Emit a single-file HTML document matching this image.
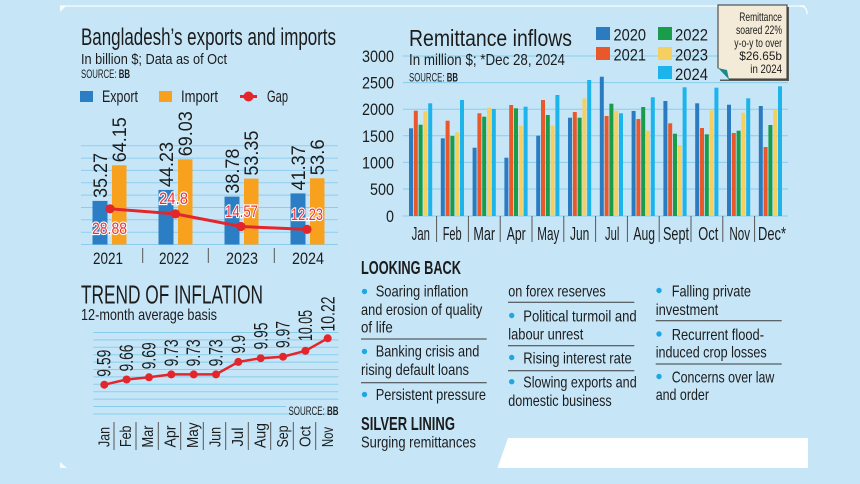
<!DOCTYPE html>
<html>
<head>
<meta charset="utf-8">
<style>
  html,body{margin:0;padding:0;background:#c6e6f8;}
  svg{display:block;}
  text{font-family:"Liberation Sans Narrow","Liberation Sans",sans-serif;fill:#1c1c1c;}
  .b{font-weight:bold;}
  .gap{fill:#e8333a;stroke:#ffffff;stroke-width:2.2;paint-order:stroke;font-size:17px;}
</style>
</head>
<body>
<svg width="860" height="484" viewBox="0 0 860 484" xmlns="http://www.w3.org/2000/svg">
  <rect x="0" y="0" width="860" height="484" fill="#c6e6f8"/>
  <!-- faint frame -->
  <line x1="60" y1="6" x2="805" y2="6" stroke="#ffffff" stroke-opacity="0.75" stroke-width="1.5"/>
  <path d="M60 6 L60 12 L66 6 Z" fill="#ffffff" fill-opacity="0.8"/>
  <path d="M800 6 Q807 6 807 14" fill="none" stroke="#ffffff" stroke-opacity="0.8" stroke-width="1.5"/>
  <path d="M60 462 L60 468 L67 468 Z" fill="#ffffff" fill-opacity="0.8"/>
  <polygon points="508,438 808,438 808,468 497.5,468" fill="#ffffff"/>

  <!-- ============ EXPORTS / IMPORTS ============ -->
  <text x="81" y="45" font-size="24" textLength="255" lengthAdjust="spacingAndGlyphs">Bangladesh’s exports and imports</text>
  <text x="81" y="64" font-size="15" textLength="146" lengthAdjust="spacingAndGlyphs">In billion $; Data as of Oct</text>
  <text x="81" y="78" font-size="12" textLength="49" lengthAdjust="spacingAndGlyphs">SOURCE: <tspan class="b">BB</tspan></text>

  <rect x="80" y="91" width="13" height="11" fill="#2b7dc4"/>
  <text x="102" y="102" font-size="17" textLength="36" lengthAdjust="spacingAndGlyphs">Export</text>
  <rect x="159" y="91" width="13" height="11" fill="#f8a11e"/>
  <text x="181" y="102" font-size="17" textLength="37" lengthAdjust="spacingAndGlyphs">Import</text>
  <line x1="240" y1="96.5" x2="257" y2="96.5" stroke="#e3262b" stroke-width="3"/>
  <circle cx="248.5" cy="96.5" r="5" fill="#e3262b"/>
  <text x="267" y="102" font-size="17" textLength="21" lengthAdjust="spacingAndGlyphs">Gap</text>

  <g stroke="#8ccdee" stroke-width="1">
    <line x1="81" y1="145.7" x2="338" y2="145.7"/>
    <line x1="81" y1="158.1" x2="338" y2="158.1"/>
    <line x1="81" y1="170.4" x2="338" y2="170.4"/>
    <line x1="81" y1="182.8" x2="338" y2="182.8"/>
    <line x1="81" y1="195.1" x2="338" y2="195.1"/>
    <line x1="81" y1="207.5" x2="338" y2="207.5"/>
    <line x1="81" y1="219.8" x2="338" y2="219.8"/>
    <line x1="81" y1="232.2" x2="338" y2="232.2"/>
    <line x1="81" y1="244.5" x2="338" y2="244.5"/>
  </g>

  <g fill="#2b7dc4">
    <rect x="92.5" y="200.9" width="15" height="43.6"/>
    <rect x="158.5" y="189.9" width="15" height="54.6"/>
    <rect x="224.5" y="196.6" width="15" height="47.9"/>
    <rect x="290.5" y="193.4" width="15" height="51.1"/>
  </g>
  <g fill="#f8a11e">
    <rect x="112" y="165.3" width="14.5" height="79.2"/>
    <rect x="178" y="159.3" width="14.5" height="85.2"/>
    <rect x="244" y="178.6" width="14.5" height="65.9"/>
    <rect x="310" y="178.3" width="14.5" height="66.2"/>
  </g>

  <g font-size="19">
    <text transform="translate(100,198) rotate(-90)" dy="0.36em" textLength="45" lengthAdjust="spacingAndGlyphs">35.27</text>
    <text transform="translate(166,187) rotate(-90)" dy="0.36em" textLength="45" lengthAdjust="spacingAndGlyphs">44.23</text>
    <text transform="translate(232,193.6) rotate(-90)" dy="0.36em" textLength="45" lengthAdjust="spacingAndGlyphs">38.78</text>
    <text transform="translate(298,190.4) rotate(-90)" dy="0.36em" textLength="45" lengthAdjust="spacingAndGlyphs">41.37</text>
    <text transform="translate(119.3,162.3) rotate(-90)" dy="0.36em" textLength="45" lengthAdjust="spacingAndGlyphs">64.15</text>
    <text transform="translate(185.3,156.3) rotate(-90)" dy="0.36em" textLength="45" lengthAdjust="spacingAndGlyphs">69.03</text>
    <text transform="translate(251.3,175.6) rotate(-90)" dy="0.36em" textLength="45" lengthAdjust="spacingAndGlyphs">53.35</text>
    <text transform="translate(317.3,175.3) rotate(-90)" dy="0.36em" textLength="36" lengthAdjust="spacingAndGlyphs">53.6</text>
  </g>

  <polyline points="110,208.8 175.5,213.9 241,226.5 307,229.4" fill="none" stroke="#e3262b" stroke-width="3"/>
  <g fill="#e3262b">
    <circle cx="110" cy="208.8" r="4.6"/>
    <circle cx="175.5" cy="213.9" r="4.6"/>
    <circle cx="241" cy="226.5" r="4.6"/>
    <circle cx="307" cy="229.4" r="4.6"/>
  </g>
  <text class="gap" x="92" y="234" textLength="35" lengthAdjust="spacingAndGlyphs">28.88</text>
  <text class="gap" x="159" y="204" textLength="29" lengthAdjust="spacingAndGlyphs">24.8</text>
  <text class="gap" x="225" y="217" textLength="33" lengthAdjust="spacingAndGlyphs">14.57</text>
  <text class="gap" x="291" y="220" textLength="32" lengthAdjust="spacingAndGlyphs">12.23</text>

  <g font-size="17" text-anchor="middle">
    <text x="108" y="264" textLength="30" lengthAdjust="spacingAndGlyphs">2021</text>
    <text x="174" y="264" textLength="30" lengthAdjust="spacingAndGlyphs">2022</text>
    <text x="242" y="264" textLength="32" lengthAdjust="spacingAndGlyphs">2023</text>
    <text x="308" y="264" textLength="32" lengthAdjust="spacingAndGlyphs">2024</text>
  </g>
  <g stroke="#555" stroke-width="1">
    <line x1="142.7" y1="248" x2="142.7" y2="263"/>
    <line x1="208.3" y1="248" x2="208.3" y2="263"/>
    <line x1="274.3" y1="248" x2="274.3" y2="263"/>
  </g>

  <!-- ============ REMITTANCE ============ -->
  <g stroke="#86cdec" stroke-width="1">
    <line x1="403" y1="56" x2="788" y2="56"/>
    <line x1="403" y1="82.6" x2="788" y2="82.6"/>
    <line x1="403" y1="109.2" x2="788" y2="109.2"/>
    <line x1="403" y1="135.8" x2="788" y2="135.8"/>
    <line x1="403" y1="162.4" x2="788" y2="162.4"/>
    <line x1="403" y1="189" x2="788" y2="189"/>
    <line x1="403" y1="216" x2="788" y2="216"/>
  </g>
  <text x="409" y="46" font-size="23" textLength="163" lengthAdjust="spacingAndGlyphs">Remittance inflows</text>
  <text x="409" y="65" font-size="16" textLength="156" lengthAdjust="spacingAndGlyphs">In million $; *Dec 28, 2024</text>
  <text x="409" y="81.5" font-size="12" textLength="49" lengthAdjust="spacingAndGlyphs">SOURCE: <tspan class="b">BB</tspan></text>

  <g font-size="16.5" text-anchor="end">
    <text x="394" y="62" textLength="32" lengthAdjust="spacingAndGlyphs">3000</text>
    <text x="394" y="88.6" textLength="32" lengthAdjust="spacingAndGlyphs">2500</text>
    <text x="394" y="115.2" textLength="32" lengthAdjust="spacingAndGlyphs">2000</text>
    <text x="394" y="141.8" textLength="32" lengthAdjust="spacingAndGlyphs">1500</text>
    <text x="394" y="168.4" textLength="32" lengthAdjust="spacingAndGlyphs">1000</text>
    <text x="394" y="195" textLength="24" lengthAdjust="spacingAndGlyphs">500</text>
    <text x="394" y="222" textLength="8" lengthAdjust="spacingAndGlyphs">0</text>
  </g>

  <!-- legend -->
  <rect x="596" y="27" width="14" height="13" fill="#2b7bc0"/>
  <rect x="596" y="47" width="14" height="13" fill="#e8582a"/>
  <rect x="658" y="27" width="14" height="13" fill="#1a9d4a"/>
  <rect x="658" y="47" width="14" height="13" fill="#f5d060"/>
  <rect x="658" y="66" width="14" height="13" fill="#1cb4ea"/>
  <g font-size="17">
    <text x="613.5" y="40.5" textLength="32.5" lengthAdjust="spacingAndGlyphs">2020</text>
    <text x="613.5" y="60.5" textLength="32.5" lengthAdjust="spacingAndGlyphs">2021</text>
    <text x="675" y="40.5" textLength="33" lengthAdjust="spacingAndGlyphs">2022</text>
    <text x="675" y="60.5" textLength="33" lengthAdjust="spacingAndGlyphs">2023</text>
    <text x="675" y="80" textLength="33" lengthAdjust="spacingAndGlyphs">2024</text>
  </g>

  <!-- callout -->
  <rect x="720" y="7" width="69" height="74" fill="#5a5a5a"/>
  <rect x="718" y="5" width="69" height="74" fill="#f3ebd7" stroke="#333" stroke-width="1"/>
  <polygon points="717.5,68 729,79.5 717.5,79.5" fill="#c6e6f8"/>
  <polygon points="718,68 727,70 729,79.5" fill="#1b8a8f"/>
  <g font-size="12" text-anchor="end">
    <text x="782" y="21" textLength="42.7" lengthAdjust="spacingAndGlyphs">Remittance</text>
    <text x="782" y="34" textLength="46" lengthAdjust="spacingAndGlyphs">soared 22%</text>
    <text x="782" y="47" textLength="47.7" lengthAdjust="spacingAndGlyphs">y-o-y to over</text>
    <text x="782" y="60" textLength="42.7" lengthAdjust="spacingAndGlyphs">$26.65b</text>
    <text x="782" y="73" textLength="31.7" lengthAdjust="spacingAndGlyphs">in 2024</text>
  </g>

  <!-- bars 2020 -->
  <g fill="#2b7bc0">
    <rect x="409" y="128.3" width="4" height="87.7"/>
    <rect x="440.8" y="138.3" width="4" height="77.7"/>
    <rect x="472.6" y="147.7" width="4" height="68.3"/>
    <rect x="504.4" y="157.7" width="4" height="58.3"/>
    <rect x="536.2" y="135.7" width="4" height="80.3"/>
    <rect x="568" y="117.7" width="4" height="98.3"/>
    <rect x="599.8" y="76.7" width="4" height="139.3"/>
    <rect x="631.6" y="111" width="4" height="105"/>
    <rect x="663.4" y="101" width="4" height="115"/>
    <rect x="695.2" y="103.3" width="4" height="112.7"/>
    <rect x="727" y="104.7" width="4" height="111.3"/>
    <rect x="758.8" y="106" width="4" height="110"/>
  </g>
  <!-- 2021 -->
  <g fill="#e8582a">
    <rect x="413.8" y="110.7" width="4" height="105.3"/>
    <rect x="445.6" y="120.7" width="4" height="95.3"/>
    <rect x="477.4" y="113.3" width="4" height="102.7"/>
    <rect x="509.2" y="105" width="4" height="111"/>
    <rect x="541" y="100" width="4" height="116"/>
    <rect x="572.8" y="112" width="4" height="104"/>
    <rect x="604.6" y="116" width="4" height="100"/>
    <rect x="636.4" y="119" width="4" height="97"/>
    <rect x="668.2" y="123.3" width="4" height="92.7"/>
    <rect x="700" y="128" width="4" height="88"/>
    <rect x="731.8" y="133" width="4" height="83"/>
    <rect x="763.6" y="147" width="4" height="69"/>
  </g>
  <!-- 2022 -->
  <g fill="#1a9d4a">
    <rect x="418.6" y="124.7" width="4" height="91.3"/>
    <rect x="450.4" y="136" width="4" height="80"/>
    <rect x="482.2" y="116.7" width="4" height="99.3"/>
    <rect x="514" y="108.3" width="4" height="107.7"/>
    <rect x="545.8" y="115" width="4" height="101"/>
    <rect x="577.6" y="117.7" width="4" height="98.3"/>
    <rect x="609.4" y="103.7" width="4" height="112.3"/>
    <rect x="641.2" y="107" width="4" height="109"/>
    <rect x="673" y="133.7" width="4" height="82.3"/>
    <rect x="704.8" y="134.3" width="4" height="81.7"/>
    <rect x="736.6" y="130.7" width="4" height="85.3"/>
    <rect x="768.4" y="125" width="4" height="91"/>
  </g>
  <!-- 2023 -->
  <g fill="#f5d060">
    <rect x="423.4" y="111.3" width="4" height="104.7"/>
    <rect x="455.2" y="132.3" width="4" height="83.7"/>
    <rect x="487" y="107.7" width="4" height="108.3"/>
    <rect x="518.8" y="125.7" width="4" height="90.3"/>
    <rect x="550.6" y="125.7" width="4" height="90.3"/>
    <rect x="582.4" y="98.3" width="4" height="117.7"/>
    <rect x="614.2" y="110.7" width="4" height="105.3"/>
    <rect x="646" y="130.7" width="4" height="85.3"/>
    <rect x="677.8" y="145" width="4" height="71"/>
    <rect x="709.6" y="110.3" width="4" height="105.7"/>
    <rect x="741.4" y="112.7" width="4" height="103.3"/>
    <rect x="773.2" y="109.3" width="4" height="106.7"/>
  </g>
  <!-- 2024 -->
  <g fill="#1cb4ea">
    <rect x="428.2" y="103.3" width="4" height="112.7"/>
    <rect x="460" y="100" width="4" height="116"/>
    <rect x="491.8" y="109" width="4" height="107"/>
    <rect x="523.6" y="106.7" width="4" height="109.3"/>
    <rect x="555.4" y="95" width="4" height="121"/>
    <rect x="587.2" y="80" width="4" height="136"/>
    <rect x="619" y="113.3" width="4" height="102.7"/>
    <rect x="650.8" y="97.3" width="4" height="118.7"/>
    <rect x="682.6" y="87.3" width="4" height="128.7"/>
    <rect x="714.4" y="87.7" width="4" height="128.3"/>
    <rect x="746.2" y="98.3" width="4" height="117.7"/>
    <rect x="778" y="86.3" width="4" height="129.7"/>
  </g>

  <g stroke="#555" stroke-width="1">
    <line x1="436.6" y1="216" x2="436.6" y2="242"/>
    <line x1="468.4" y1="216" x2="468.4" y2="242"/>
    <line x1="500.2" y1="216" x2="500.2" y2="242"/>
    <line x1="532" y1="216" x2="532" y2="242"/>
    <line x1="563.8" y1="216" x2="563.8" y2="242"/>
    <line x1="595.6" y1="216" x2="595.6" y2="242"/>
    <line x1="627.4" y1="216" x2="627.4" y2="242"/>
    <line x1="659.2" y1="216" x2="659.2" y2="242"/>
    <line x1="691" y1="216" x2="691" y2="242"/>
    <line x1="722.8" y1="216" x2="722.8" y2="242"/>
    <line x1="754.6" y1="216" x2="754.6" y2="242"/>
  </g>
  <g font-size="18" text-anchor="middle">
    <text x="420.8" y="240" textLength="18.3" lengthAdjust="spacingAndGlyphs">Jan</text>
    <text x="452.2" y="240" textLength="19" lengthAdjust="spacingAndGlyphs">Feb</text>
    <text x="484.2" y="240" textLength="21.7" lengthAdjust="spacingAndGlyphs">Mar</text>
    <text x="516.2" y="240" textLength="19" lengthAdjust="spacingAndGlyphs">Apr</text>
    <text x="548.3" y="240" textLength="22" lengthAdjust="spacingAndGlyphs">May</text>
    <text x="579.7" y="240" textLength="19.3" lengthAdjust="spacingAndGlyphs">Jun</text>
    <text x="612.2" y="240" textLength="14.3" lengthAdjust="spacingAndGlyphs">Jul</text>
    <text x="644.2" y="240" textLength="21.7" lengthAdjust="spacingAndGlyphs">Aug</text>
    <text x="676" y="240" textLength="26" lengthAdjust="spacingAndGlyphs">Sept</text>
    <text x="708.3" y="240" textLength="20" lengthAdjust="spacingAndGlyphs">Oct</text>
    <text x="739.7" y="240" textLength="20.7" lengthAdjust="spacingAndGlyphs">Nov</text>
    <text x="772" y="240" textLength="28" lengthAdjust="spacingAndGlyphs">Dec*</text>
  </g>

  <!-- ============ INFLATION ============ -->
  <text x="81" y="303.5" font-size="26" textLength="182" lengthAdjust="spacingAndGlyphs">TREND OF INFLATION</text>
  <text x="81" y="320" font-size="16" textLength="136" lengthAdjust="spacingAndGlyphs">12-month average basis</text>
  <g stroke="#86cdec" stroke-width="1">
    <line x1="93.3" y1="332.5" x2="338.3" y2="332.5"/>
    <line x1="93.3" y1="339.9" x2="338.3" y2="339.9"/>
    <line x1="93.3" y1="347.3" x2="338.3" y2="347.3"/>
    <line x1="93.3" y1="354.7" x2="338.3" y2="354.7"/>
    <line x1="93.3" y1="362.1" x2="338.3" y2="362.1"/>
    <line x1="93.3" y1="369.5" x2="338.3" y2="369.5"/>
    <line x1="93.3" y1="376.9" x2="338.3" y2="376.9"/>
    <line x1="93.3" y1="384.3" x2="338.3" y2="384.3"/>
    <line x1="93.3" y1="391.7" x2="338.3" y2="391.7"/>
    <line x1="93.3" y1="399.1" x2="338.3" y2="399.1"/>
    <line x1="93.3" y1="406.5" x2="286" y2="406.5"/>
    <line x1="93.3" y1="414" x2="338.3" y2="414"/>
  </g>
  <polyline points="104.3,384.7 126.6,379.5 149,377.3 171.3,374.4 193.7,374.4 216,374.4 238.3,361.9 260.7,358.2 283,356.7 305.4,350.8 327.7,338.3" fill="none" stroke="#e3262b" stroke-width="2.5"/>
  <g fill="#e3262b">
    <circle cx="104.3" cy="384.7" r="4"/>
    <circle cx="126.6" cy="379.5" r="4"/>
    <circle cx="149" cy="377.3" r="4"/>
    <circle cx="171.3" cy="374.4" r="4"/>
    <circle cx="193.7" cy="374.4" r="4"/>
    <circle cx="216" cy="374.4" r="4"/>
    <circle cx="238.3" cy="361.9" r="4"/>
    <circle cx="260.7" cy="358.2" r="4"/>
    <circle cx="283" cy="356.7" r="4"/>
    <circle cx="305.4" cy="350.8" r="4"/>
    <circle cx="327.7" cy="338.3" r="4"/>
  </g>
  <g font-size="19">
    <text transform="translate(103.5,376.7) rotate(-90)" dy="0.36em" textLength="27" lengthAdjust="spacingAndGlyphs">9.59</text>
    <text transform="translate(126,371.5) rotate(-90)" dy="0.36em" textLength="27" lengthAdjust="spacingAndGlyphs">9.66</text>
    <text transform="translate(148.5,369.3) rotate(-90)" dy="0.36em" textLength="27" lengthAdjust="spacingAndGlyphs">9.69</text>
    <text transform="translate(171,366.4) rotate(-90)" dy="0.36em" textLength="27" lengthAdjust="spacingAndGlyphs">9.73</text>
    <text transform="translate(193.3,366.4) rotate(-90)" dy="0.36em" textLength="27" lengthAdjust="spacingAndGlyphs">9.73</text>
    <text transform="translate(215.7,366.4) rotate(-90)" dy="0.36em" textLength="27" lengthAdjust="spacingAndGlyphs">9.73</text>
    <text transform="translate(238,353.5) rotate(-90)" dy="0.36em" textLength="18.5" lengthAdjust="spacingAndGlyphs">9.9</text>
    <text transform="translate(260.5,349.5) rotate(-90)" dy="0.36em" textLength="27" lengthAdjust="spacingAndGlyphs">9.95</text>
    <text transform="translate(282.7,348) rotate(-90)" dy="0.36em" textLength="27" lengthAdjust="spacingAndGlyphs">9.97</text>
    <text transform="translate(305,341) rotate(-90)" dy="0.36em" textLength="31" lengthAdjust="spacingAndGlyphs">10.05</text>
    <text transform="translate(327.5,331.5) rotate(-90)" dy="0.36em" textLength="35" lengthAdjust="spacingAndGlyphs">10.22</text>
  </g>
  <text x="288.5" y="415" font-size="12" textLength="50" lengthAdjust="spacingAndGlyphs">SOURCE: <tspan class="b">BB</tspan></text>

  <g stroke="#555" stroke-width="1">
    <line x1="114" y1="422" x2="114" y2="450"/>
    <line x1="136" y1="422" x2="136" y2="450"/>
    <line x1="158.3" y1="422" x2="158.3" y2="450"/>
    <line x1="180.7" y1="422" x2="180.7" y2="450"/>
    <line x1="203.3" y1="422" x2="203.3" y2="450"/>
    <line x1="225.7" y1="422" x2="225.7" y2="450"/>
    <line x1="248.3" y1="422" x2="248.3" y2="450"/>
    <line x1="270.7" y1="422" x2="270.7" y2="450"/>
    <line x1="293.3" y1="422" x2="293.3" y2="450"/>
    <line x1="315.7" y1="422" x2="315.7" y2="450"/>
  </g>
  <g font-size="16">
    <text transform="translate(103.5,447) rotate(-90)" dy="0.36em" textLength="20" lengthAdjust="spacingAndGlyphs">Jan</text>
    <text transform="translate(125,447) rotate(-90)" dy="0.36em" textLength="21.5" lengthAdjust="spacingAndGlyphs">Feb</text>
    <text transform="translate(147.2,447.5) rotate(-90)" dy="0.36em" textLength="22" lengthAdjust="spacingAndGlyphs">Mar</text>
    <text transform="translate(169.5,447.5) rotate(-90)" dy="0.36em" textLength="22" lengthAdjust="spacingAndGlyphs">Apr</text>
    <text transform="translate(192,448) rotate(-90)" dy="0.36em" textLength="25.5" lengthAdjust="spacingAndGlyphs">May</text>
    <text transform="translate(214.5,447) rotate(-90)" dy="0.36em" textLength="20" lengthAdjust="spacingAndGlyphs">Jun</text>
    <text transform="translate(237,446.5) rotate(-90)" dy="0.36em" textLength="19" lengthAdjust="spacingAndGlyphs">Jul</text>
    <text transform="translate(259.5,448) rotate(-90)" dy="0.36em" textLength="25" lengthAdjust="spacingAndGlyphs">Aug</text>
    <text transform="translate(282,447.5) rotate(-90)" dy="0.36em" textLength="22" lengthAdjust="spacingAndGlyphs">Sep</text>
    <text transform="translate(304.5,447) rotate(-90)" dy="0.36em" textLength="21" lengthAdjust="spacingAndGlyphs">Oct</text>
    <text transform="translate(327,447) rotate(-90)" dy="0.36em" textLength="20" lengthAdjust="spacingAndGlyphs">Nov</text>
  </g>

  <!-- ============ LOOKING BACK ============ -->
  <text class="b" x="361" y="274" font-size="18" textLength="100" lengthAdjust="spacingAndGlyphs">LOOKING BACK</text>
  <g fill="#1ea7e4">
    <circle cx="364.5" cy="291.5" r="2.7"/>
    <circle cx="364.5" cy="351.5" r="2.7"/>
    <circle cx="364.5" cy="394.5" r="2.7"/>
    <circle cx="511.7" cy="315.5" r="2.7"/>
    <circle cx="511.7" cy="357.5" r="2.7"/>
    <circle cx="511.7" cy="381.7" r="2.7"/>
    <circle cx="659" cy="290.5" r="2.7"/>
    <circle cx="659" cy="334" r="2.7"/>
    <circle cx="659" cy="376.5" r="2.7"/>
  </g>
  <g font-size="16">
    <text x="375.7" y="296.7" textLength="92.6" lengthAdjust="spacingAndGlyphs">Soaring inflation</text>
    <text x="361" y="315" textLength="121.3" lengthAdjust="spacingAndGlyphs">and erosion of quality</text>
    <text x="361" y="332.7" textLength="31.7" lengthAdjust="spacingAndGlyphs">of life</text>
    <text x="375.7" y="356.7" textLength="103.6" lengthAdjust="spacingAndGlyphs">Banking crisis and</text>
    <text x="361" y="375" textLength="108" lengthAdjust="spacingAndGlyphs">rising default loans</text>
    <text x="375.7" y="400" textLength="110.3" lengthAdjust="spacingAndGlyphs">Persistent pressure</text>

    <text x="508.3" y="296.7" textLength="97.4" lengthAdjust="spacingAndGlyphs">on forex reserves</text>
    <text x="523.3" y="321.7" textLength="113.4" lengthAdjust="spacingAndGlyphs">Political turmoil and</text>
    <text x="508.3" y="339.3" textLength="75" lengthAdjust="spacingAndGlyphs">labour unrest</text>
    <text x="523.3" y="363.3" textLength="108.4" lengthAdjust="spacingAndGlyphs">Rising interest rate</text>
    <text x="523.3" y="387.7" textLength="113.4" lengthAdjust="spacingAndGlyphs">Slowing exports and</text>
    <text x="508.3" y="406" textLength="103.4" lengthAdjust="spacingAndGlyphs">domestic business</text>

    <text x="671.7" y="296.7" textLength="79.3" lengthAdjust="spacingAndGlyphs">Falling private</text>
    <text x="655.7" y="315" textLength="62.6" lengthAdjust="spacingAndGlyphs">investment</text>
    <text x="671.7" y="340" textLength="92.3" lengthAdjust="spacingAndGlyphs">Recurrent flood-</text>
    <text x="655.7" y="357.3" textLength="111" lengthAdjust="spacingAndGlyphs">induced crop losses</text>
    <text x="671.7" y="382.3" textLength="102.6" lengthAdjust="spacingAndGlyphs">Concerns over law</text>
    <text x="655.7" y="400" textLength="53.3" lengthAdjust="spacingAndGlyphs">and order</text>
  </g>
  <g stroke="#3a3a3a" stroke-width="1">
    <line x1="361" y1="339" x2="486.7" y2="339"/>
    <line x1="361" y1="382.7" x2="486.7" y2="382.7"/>
    <line x1="508" y1="302.3" x2="634.3" y2="302.3"/>
    <line x1="508" y1="345.7" x2="634.3" y2="345.7"/>
    <line x1="508" y1="370.7" x2="634.3" y2="370.7"/>
    <line x1="655.7" y1="320.7" x2="781.7" y2="320.7"/>
    <line x1="655.7" y1="364" x2="781.7" y2="364"/>
  </g>
  <text class="b" x="361" y="430" font-size="18" textLength="94" lengthAdjust="spacingAndGlyphs">SILVER LINING</text>
  <text x="361" y="447.3" font-size="16" textLength="115" lengthAdjust="spacingAndGlyphs">Surging remittances</text>
</svg>
</body>
</html>
